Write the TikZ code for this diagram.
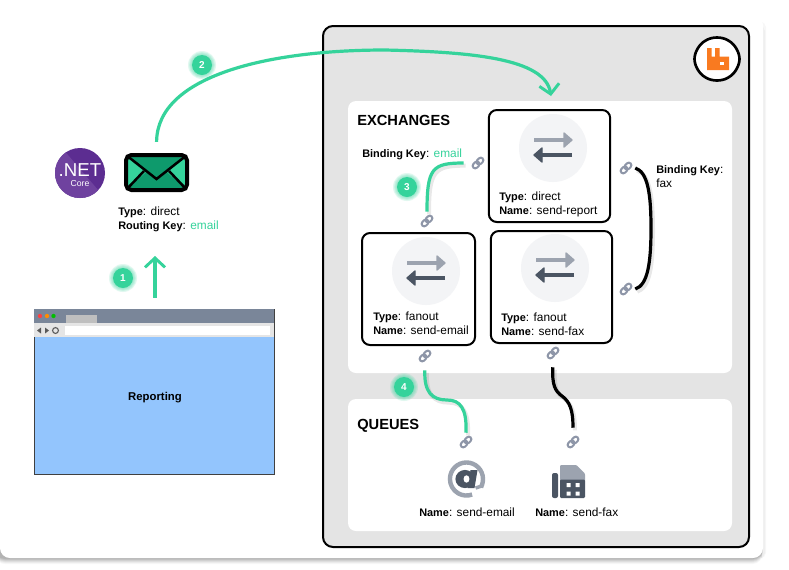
\documentclass[tikz,border=0pt]{standalone}
\usepackage{fontspec}
\setmainfont{Liberation Sans}
\usetikzlibrary{arrows.meta,calc}
\definecolor{grn}{HTML}{35D39B}
\definecolor{grnd}{HTML}{0E9A6C}
\definecolor{panel}{HTML}{E4E4E4}
\definecolor{lnkc}{HTML}{8E96A8}
\definecolor{slated}{HTML}{4B5563}
\definecolor{slatel}{HTML}{9CA3AF}
\definecolor{circ}{HTML}{F3F4F6}
\definecolor{orng}{HTML}{F97A20}
\definecolor{brbar}{HTML}{7A8699}
\definecolor{brblue}{HTML}{93C5FD}
\definecolor{netd}{HTML}{5C2D91}
\definecolor{netl}{HTML}{6F429F}
\newcommand{\bb}[1]{{\fontsize{8.2}{11}\selectfont\bfseries #1}}
\tikzset{
  x=.75pt,y=-.75pt,
  lbl/.style={anchor=west,inner sep=0pt,text height=8.6pt,text depth=2pt,font=\fontsize{8.9}{11}\selectfont},
  ttl/.style={anchor=west,inner sep=0pt,text height=9.5pt,text depth=2.5pt,font=\fontsize{11}{13}\selectfont\bfseries},
  xbox/.style={draw=black,line width=1.5pt,fill=white,rounded corners=6pt,inner sep=0pt},
  pane/.style={fill=white,rounded corners=6pt,inner sep=0pt},
  linknode/.style={circle,inner sep=0pt,minimum size=13.5pt},
  gline/.style={draw=grn,line width=2.4pt},
  bline/.style={draw=black,line width=2.4pt},
  lshadow/.style={preaction={draw=black,draw opacity=.09,line width=3pt,transform canvas={shift={(1.5pt,-2pt)}}}},
  barb/.style={-{Straight Barb[length=7pt,width=15pt,line width=2.2pt]}},
}
\newcommand{\lnk}[3]{%
  \node[linknode] (#1) at (#2,#3) {};
  \begin{scope}[shift={(#1.center)},rotate=45,draw=lnkc,line width=1.5pt]
    \draw[rounded corners=1.9pt] (-6.5,-2.6) rectangle (1,2.6);
    \draw[rounded corners=1.9pt] (-1,-2.6) rectangle (6.5,2.6);
  \end{scope}}
\newcommand{\badge}[4]{%
  \foreach \rr in {14,13,12,11}{\fill[grn,opacity=.14] (#2,#3) circle[radius=\rr*.75pt];}
  \node[circle,fill=grn,minimum size=15pt,inner sep=0pt,text=white,font=\fontsize{7.5}{9}\selectfont\bfseries] (#1) at (#2,#3) {#4};}
\newcommand{\xicon}[3]{%
  \node[circle,fill=circ,minimum size=51pt,inner sep=0pt] (#1) at (#2,#3) {};
  \begin{scope}[shift={(#1.center)}]
    \draw[slatel,line width=3.4pt] (-19,-8) -- (13,-8);
    \fill[slatel,draw=slatel,line width=1pt,line join=round] (11,-15) -- (19,-8) -- (11,-1) -- cycle;
    \draw[slated,line width=3.4pt] (19,7) -- (-13,7);
    \fill[slated,draw=slated,line width=1pt,line join=round] (-11,0) -- (-19,7) -- (-11,14) -- cycle;
  \end{scope}}
\begin{document}
\begin{tikzpicture}
\useasboundingbox (0,0) rectangle (789,569);
\fill[white] (0,0) rectangle (789,569);
% card
\fill[black,opacity=.03,rounded corners=4pt] (758,22) rectangle (766,558);
\fill[black,opacity=.03,rounded corners=4pt] (758,26) rectangle (765,558);
\foreach \d/\o in {6/.03,5/.04,4/.05,3/.06,2/.07,1/.08}{
  \fill[black,opacity=\o,rounded corners=7.5pt] (-5,500) rectangle (762.5,558+\d);}
\fill[white,rounded corners=7.5pt] (0,15) rectangle (763,558);
% panels
\node[draw=black,line width=1.5pt,fill=panel,rounded corners=7.5pt,minimum width=319.5pt,minimum height=390.75pt,inner sep=0pt] (main) at (536,286.5) {};
\node[pane,minimum width=288pt,minimum height=204pt] (exch) at (540,237) {};
\node[pane,minimum width=288pt,minimum height=99pt] (queues) at (540,465) {};
\node[ttl] (texch) at (357,121) {EXCHANGES};
\node[ttl] (tqueues) at (357,425) {QUEUES};
% exchange boxes
\node[xbox,minimum width=91pt,minimum height=84pt] (bdirect) at (549.5,166) {};
\node[xbox,minimum width=84.75pt,minimum height=84pt] (bemail) at (418.5,289) {};
\node[xbox,minimum width=91pt,minimum height=84pt] (bfax) at (551.5,287) {};
\xicon{idirect}{553}{148}
\xicon{iemail}{426}{271}
\xicon{ifax}{555}{268}
\node[lbl] (t1) at (499,196) {\bb{Type}: direct};
\node[lbl] (n1) at (499,210) {\bb{Name}: send-report};
\node[lbl] (t2) at (373,316) {\bb{Type}: fanout};
\node[lbl] (n2) at (373,330) {\bb{Name}: send-email};
\node[lbl] (t3) at (501,317) {\bb{Type}: fanout};
\node[lbl] (n3) at (501,331) {\bb{Name}: send-fax};
\node[lbl] (bk1) at (362,153) {\bb{Binding Key}: \textcolor{grn}{email}};
\node[lbl] (bk2) at (656,169) {\bb{Binding Key}:};
\node[lbl] (bk3) at (656,183) {fax};
% links
\lnk{lA}{478}{163}
\lnk{lB}{427}{221}
\lnk{lC}{626}{168}
\lnk{lD}{626}{289}
\lnk{lE}{425}{356}
\lnk{lF}{553}{353}
\lnk{lG}{466}{442}
\lnk{lH}{573}{442}
% connectors
\draw[gline,lshadow,shorten <=3.75pt] (lA.west) .. controls (432,163) and (427,168) .. (lB.north);
\draw[bline,lshadow] (lC.east) .. controls (648,172) and (651,195) .. (651,228) .. controls (651,262) and (648,285) .. (lD.east);
\draw[gline,lshadow,shorten <=3.75pt] (lE.south) .. controls (424,392) and (432,400) .. (447,400) .. controls (460,400) and (467,408) .. (lG.north);
\draw[bline,lshadow,shorten <=3.75pt,shorten >=3.75pt] (lF.south) .. controls (552,385) and (555,391) .. (562,396) .. controls (570,402) and (573,410) .. (lH.north);
% @ icon
\node[circle,inner sep=0pt,minimum size=27pt] (at) at (466.5,479) {};
\begin{scope}[shift={(at.center)}]
\draw[slatel,line width=3.3pt] (14.5,8.5) .. controls (16.5,4) and (16.5,1) .. (16.5,0) arc[start angle=0,end angle=180,radius=12.4pt] arc[start angle=180,end angle=290,radius=12.4pt];
\draw[slatel,line width=2.6pt] (15,7) -- (9,9);
\fill[slated] (-1.5,0) ellipse[x radius=7.2pt,y radius=6.8pt];
\fill[slated] (4,-9) -- (11,-9) -- (8,9) -- (1,9) -- cycle;
\fill[white] (0,0) ellipse[x radius=2.2pt,y radius=2.8pt];
\end{scope}
% fax icon
\node[inner sep=0pt,minimum width=25pt,minimum height=25pt] (fax) at (568.5,481.5) {};
\begin{scope}[shift={(fax.center)}]
\fill[slated,rounded corners=1.5pt] (-16.5,-8.5) rectangle (-10.5,16.5);
\fill[slatel,rounded corners=.8pt] (-8.5,-16.5) -- (8,-16.5) -- (16.5,-8) -- (16.5,0) -- (-8.5,0) -- cycle;
\fill[slated,rounded corners=.8pt] (-8.5,-2) -- (16.5,-2) -- (16.5,16.5) -- (-8.5,16.5) -- cycle;
\fill[white] (-2,1.5) rectangle (2,5.5) (7,1.5) rectangle (11,5.5) (-2,10) rectangle (2,14) (7,10) rectangle (11,14);
\end{scope}
\node[lbl] (qn1) at (419,512) {\bb{Name}: send-email};
\node[lbl] (qn2) at (535,512) {\bb{Name}: send-fax};
% rabbit logo
\node[inner sep=0pt,minimum size=24pt] (rabbit) at (717,59) {};
\begin{scope}[shift={(rabbit.center)}]
\draw[black,line width=2pt,fill=white,rounded corners=9pt] (0,-25) -- (22.5,-12) -- (22.5,12) -- (0,25) -- (-22.5,12) -- (-22.5,-12) -- cycle;
\fill[orng] (-10,-11) -- (-5.5,-11) -- (-5.5,-2.5) -- (-2,-2.5) -- (-2,-11) -- (2.5,-11) -- (2.5,-2.5) -- (12,-2.5) -- (12,11) -- (-10,11) -- cycle;
\fill[white] (3,2.7) rectangle (7,6);
\end{scope}
% browser
\node[draw=black!75,line width=.5pt,fill=brblue,minimum width=180pt,minimum height=123.75pt,inner sep=0pt] (browser) at (154,391.5) {};
\fill[brbar] (browser.north west) rectangle (274,323);
\fill[black!10] (34.4,323) rectangle (273.6,337);
\fill[black!25] (66,323) -- (66,315) -- (97,315) -- (97,323) -- cycle;
\fill[white] (65,326) rectangle (270,335);
\fill[red!75!white] (40,316) circle[radius=1.6pt];
\fill[orange!90!yellow] (47,316) circle[radius=1.6pt];
\fill[green!75!black] (53.5,316) circle[radius=1.6pt];
\fill[black!65] (37,330.5) -- (41,327.5) -- (41,333.5) -- cycle;
\fill[black!65] (49,330.5) -- (45,327.5) -- (45,333.5) -- cycle;
\draw[black!65,line width=.8pt] (55.5,330.5) circle[radius=2.2pt];
\node[anchor=center,inner sep=0pt,text height=8.6pt,text depth=2pt,font=\fontsize{8.5}{11}\selectfont\bfseries] (rep) at (155,396) {Reporting};
% arrow 1
\coordinate (a1) at (155,256);
\draw[gline,barb,shorten <=8.25pt] (browser.north -| a1) -- (a1);
% .NET logo
\node[circle,fill=netd,minimum size=37.5pt,inner sep=0pt] (net) at (80,173) {};
\begin{scope}
\clip (net) circle[radius=18.75pt];
\fill[netl] (55,148) -- (62,148) -- (105,198) -- (55,198) -- cycle;
\end{scope}
\node[text=white,inner sep=0pt,font=\fontsize{14}{15}\selectfont] (nettxt) at (80,170) {.NET};
\node[text=white,inner sep=0pt,font=\fontsize{6.5}{8}\selectfont] (corettxt) at (80,184) {Core};
% envelope
\node[inner sep=0pt,minimum width=46pt,minimum height=26pt] (env) at (156.5,172.5) {};
\begin{scope}
\clip[rounded corners=4pt] (126,155) rectangle (187,190);
\fill[grnd] (126,155) rectangle (187,190);
\fill[grn] (126,155) -- (146,172) -- (126,190) -- cycle;
\fill[grn] (187,155) -- (167,172) -- (187,190) -- cycle;
\draw[black,line width=1.9pt] (126,155) -- (156.5,179) -- (187,155);
\draw[black,line width=1.9pt] (126,190) -- (144,171);
\draw[black,line width=1.9pt] (187,190) -- (169,171);
\end{scope}
\draw[black,line width=3pt,rounded corners=4pt] (126,155) rectangle (187,190);
\node[lbl] (et1) at (118,211) {\bb{Type}: direct};
\node[lbl] (et2) at (118,225) {\bb{Routing Key}: \textcolor{grn}{email}};
% arrow 2
\coordinate (a2) at (551,96);
\draw[gline,barb,shorten <=9.75pt] (env.north) .. controls (157,75) and (270,50) .. (385,50) .. controls (470,52) and (545,58) .. (a2);
% badges
\badge{b1}{123}{278}{1}
\badge{b2}{202}{65}{2}
\badge{b3}{407}{187}{3}
\badge{b4}{404}{387}{4}
\end{tikzpicture}
\end{document}
